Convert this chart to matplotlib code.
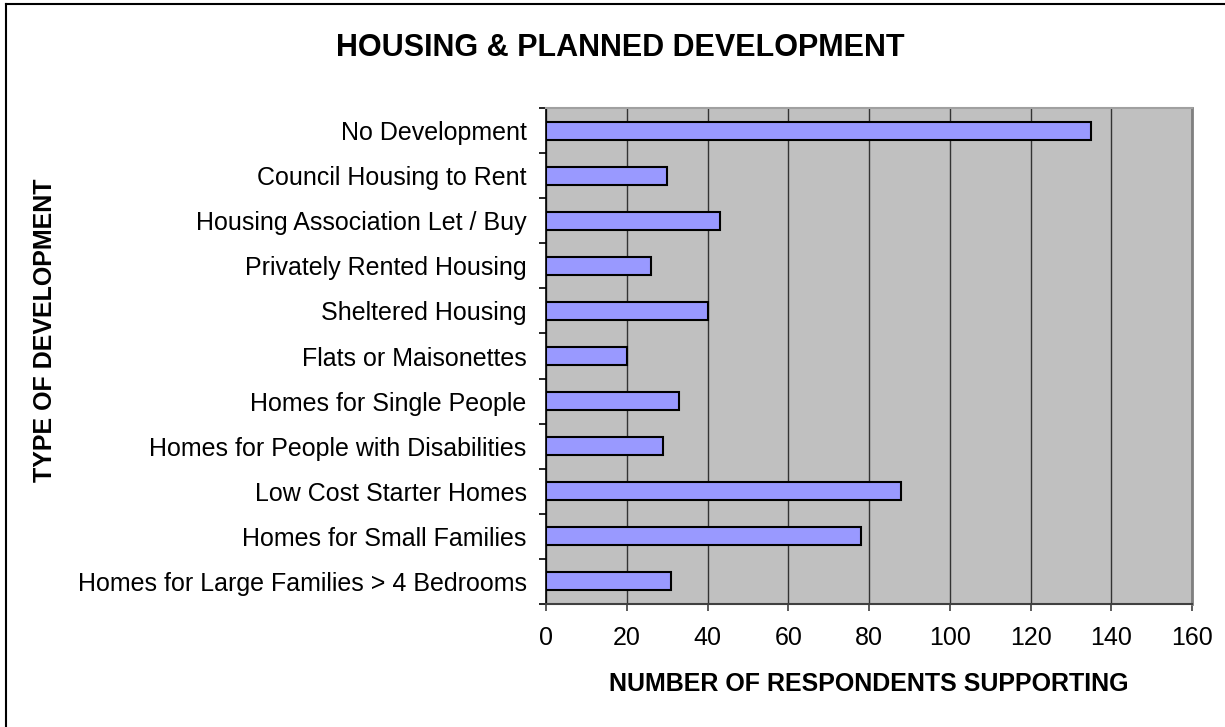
import matplotlib
matplotlib.use('Agg')
from matplotlib import pyplot as plt
from matplotlib.lines import Line2D

# values
categories = ['No Development', 'Council Housing to Rent', 'Housing Association Let / Buy',
              'Privately Rented Housing', 'Sheltered Housing', 'Flats or Maisonettes',
              'Homes for Single People', 'Homes for People with Disabilities',
              'Low Cost Starter Homes', 'Homes for Small Families',
              'Homes for Large Families > 4 Bedrooms']
respondents = [135, 30, 43, 26, 40, 20, 33, 29, 88, 78, 31]
xticks = [0, 20, 40, 60, 80, 100, 120, 140, 160]

W, H = 1225, 727
plt.rcParams['font.family'] = ['Liberation Sans', 'DejaVu Sans']

fig = plt.figure(figsize=(W / 100, H / 100), dpi=100)
fig.patch.set_facecolor('white')

# axes box in pixels: x 546..1192, y 108..604
ax = fig.add_axes([546 / W, 1 - 604 / H, (1192 - 546) / W, (604 - 108) / H])
ax.set_facecolor('#C0C0C0')

n = len(categories)
ypos = list(range(n))[::-1]
ax.barh(ypos, respondents, height=0.4, color='#9999FF', edgecolor='black', linewidth=1.5, zorder=3)

ax.set_xlim(0, 160)
ax.set_ylim(-0.5, n - 0.5)
ax.set_xticks(xticks)
ax.set_xticklabels([str(v) for v in xticks])
ax.xaxis.grid(True, color='#333333', linewidth=1.0, zorder=1)
ax.set_axisbelow(True)

# category labels centred on bars, ticks at boundaries
ax.set_yticks([y - 0.5 for y in range(n + 1)])
ax.set_yticklabels([])
ax.set_yticks(ypos, minor=True)
ax.set_yticklabels(categories, minor=True)
ax.tick_params(axis='y', which='minor', length=0, pad=14, labelsize=18)
ax.tick_params(axis='y', which='major', length=5, width=1.2, direction='out')
ax.tick_params(axis='x', length=5, width=1.2, direction='out', pad=11, labelsize=18, color='#404040')

ax.spines['left'].set_color('black')
ax.spines['left'].set_linewidth(1.2)
ax.spines['bottom'].set_color('#404040')
ax.spines['bottom'].set_linewidth(1.5)
ax.spines['right'].set_color('#808080')
ax.spines['right'].set_linewidth(2)
ax.spines['top'].set_color('#A0A0A0')
ax.spines['top'].set_linewidth(1.5)

fig.text(620 / W, 1 - 48 / H, 'HOUSING & PLANNED DEVELOPMENT', ha='center', va='center',
         fontsize=22, fontweight='bold')
fig.text(869 / W, 1 - 684 / H, 'NUMBER OF RESPONDENTS SUPPORTING', ha='center', va='center',
         fontsize=18, fontweight='bold')
fig.text(45 / W, 1 - 330 / H, 'TYPE OF DEVELOPMENT', ha='center', va='center',
         rotation=90, fontsize=18, fontweight='bold')

# outer frame (only top and left edges are visible in the reference)
fig.add_artist(Line2D([6 / W, 1], [1 - 4 / H, 1 - 4 / H], color='black', linewidth=1.5))
fig.add_artist(Line2D([6 / W, 6 / W], [0, 1 - 4 / H], color='black', linewidth=1.5))

plt.savefig('out.png', dpi=100)
